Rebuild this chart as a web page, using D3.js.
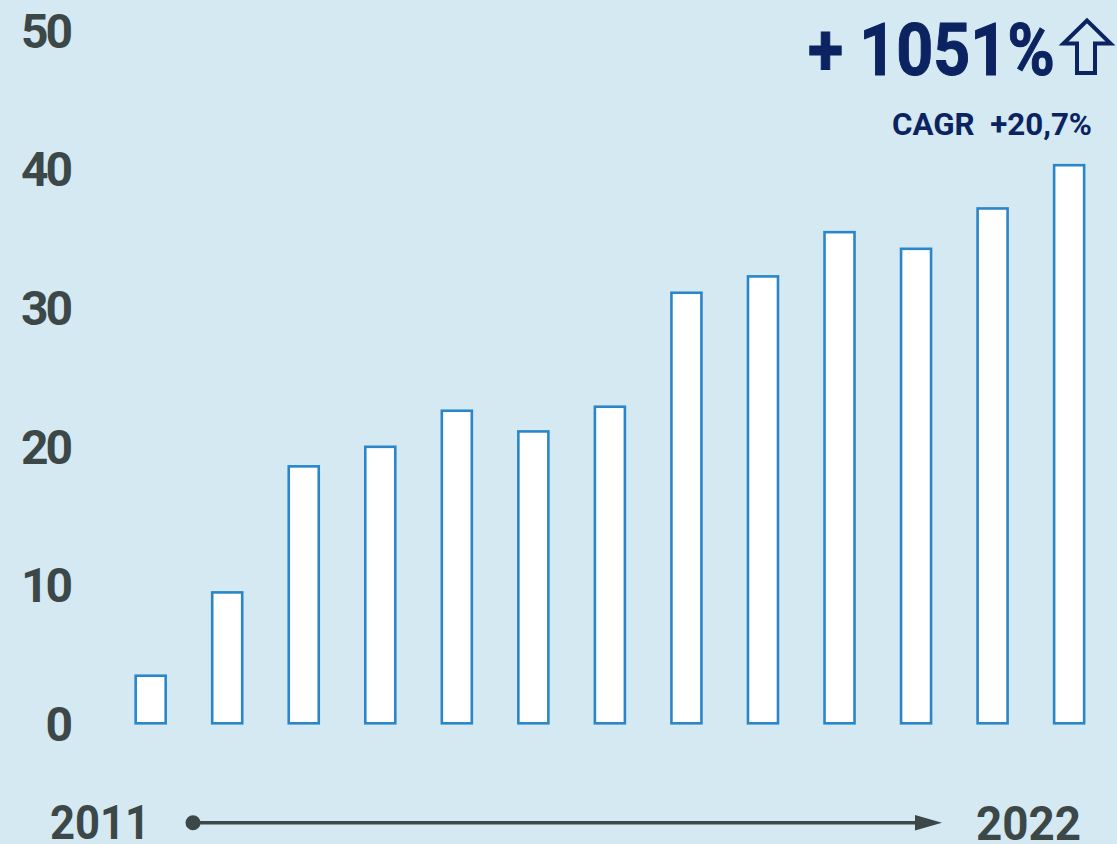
<!DOCTYPE html>
<html>
<head>
<meta charset="utf-8">
<script src="https://cdn.jsdelivr.net/npm/d3@7"></script>
<style>
  html, body { margin: 0; padding: 0; background: #d4e9f2; }
  svg { display: block; font-family: Roboto, "Liberation Sans", sans-serif; }
</style>
</head>
<body>
<script>
// data
var periods = ["2010", "2011", "2012", "2013", "2014", "2015", "2016",
               "2017", "2018", "2019", "2020", "2021", "2022"];
var values = [3.43, 9.44, 18.53, 19.94, 22.54, 21.05, 22.83,
              31.05, 32.23, 35.42, 34.22, 37.13, 40.25];
var yTicks = [0, 10, 20, 30, 40, 50];
var startLabel = "2011";
var endLabel = "2022";
var growthLabel = "+ 1051%";
var cagrLabel = "CAGR  +20,7%";

var w = 1117, h = 844;
var grey = "#3c4748", navy = "#0b2461", blue = "#2a86c9";

var svg = d3.select("body").append("svg")
    .attr("width", w)
    .attr("height", h);

svg.append("rect").attr("width", w).attr("height", h).attr("fill", "#d4e9f2");

// scales
var xScale = d3.scaleBand()
    .domain(periods)
    .range([112.4, 1107.4])
    .paddingInner(0.608)
    .paddingOuter(0.304);

var yScale = d3.scaleLinear()
    .domain([0, 50])
    .range([723.3, 30]);

// y axis, labels only
var yAxis = d3.axisLeft(yScale)
    .tickValues(yTicks)
    .tickSize(0)
    .tickPadding(6);

var gy = svg.append("g")
    .attr("transform", "translate(76,0)")
    .call(yAxis);
gy.select(".domain").remove();
gy.selectAll("text")
    .attr("dy", "0.355em")
    .attr("fill", grey)
    .style("font-family", "Roboto, sans-serif")
    .style("font-weight", "700")
    .style("font-size", "48px")
    .style("letter-spacing", "-3px");

// bars
svg.selectAll("rect.bar")
    .data(values)
    .enter()
    .append("rect")
    .attr("class", "bar")
    .attr("x", function(d, i) { return xScale(periods[i]); })
    .attr("y", function(d) { return yScale(d); })
    .attr("width", xScale.bandwidth())
    .attr("height", function(d) { return yScale(0) - yScale(d); })
    .attr("fill", "#ffffff")
    .attr("stroke", blue)
    .attr("stroke-width", 2.6);

// headline
svg.append("text")
    .attr("x", 808).attr("y", 75)
    .attr("textLength", 247)
    .attr("lengthAdjust", "spacingAndGlyphs")
    .attr("fill", navy)
    .attr("stroke", navy)
    .attr("stroke-width", 1)
    .style("font-weight", "700")
    .style("font-size", "73px")
    .text(growthLabel);

// outlined up arrow
svg.append("path")
    .attr("d", "M1087,20.5 L1063.5,43.5 L1077,43.5 L1077,73 L1095,73 L1095,43.5 L1110.5,43.5 Z")
    .attr("fill", "none")
    .attr("stroke", navy)
    .attr("stroke-width", 4)
    .attr("stroke-linejoin", "miter");

svg.append("text")
    .attr("x", 892).attr("y", 135)
    .attr("textLength", 200)
    .attr("lengthAdjust", "spacingAndGlyphs")
    .attr("fill", navy)
    .style("white-space", "pre")
    .style("font-weight", "700")
    .style("font-size", "32px")
    .text(cagrLabel);

// timeline at the bottom
svg.append("text")
    .attr("x", 50).attr("y", 839)
    .attr("textLength", 100)
    .attr("lengthAdjust", "spacingAndGlyphs")
    .attr("fill", grey)
    .style("font-weight", "700")
    .style("font-size", "49px")
    .text(startLabel);

svg.append("text")
    .attr("x", 976).attr("y", 840)
    .attr("textLength", 105)
    .attr("lengthAdjust", "spacingAndGlyphs")
    .attr("fill", grey)
    .style("font-weight", "700")
    .style("font-size", "49px")
    .text(endLabel);

svg.append("line")
    .attr("x1", 193).attr("y1", 822.7)
    .attr("x2", 918).attr("y2", 822.7)
    .attr("stroke", grey)
    .attr("stroke-width", 3.4);

svg.append("circle")
    .attr("cx", 193).attr("cy", 822.7)
    .attr("r", 7.5)
    .attr("fill", grey);

svg.append("path")
    .attr("d", "M915,815 L942,822.7 L915,830.5 Z")
    .attr("fill", grey);
</script>
</body>
</html>
